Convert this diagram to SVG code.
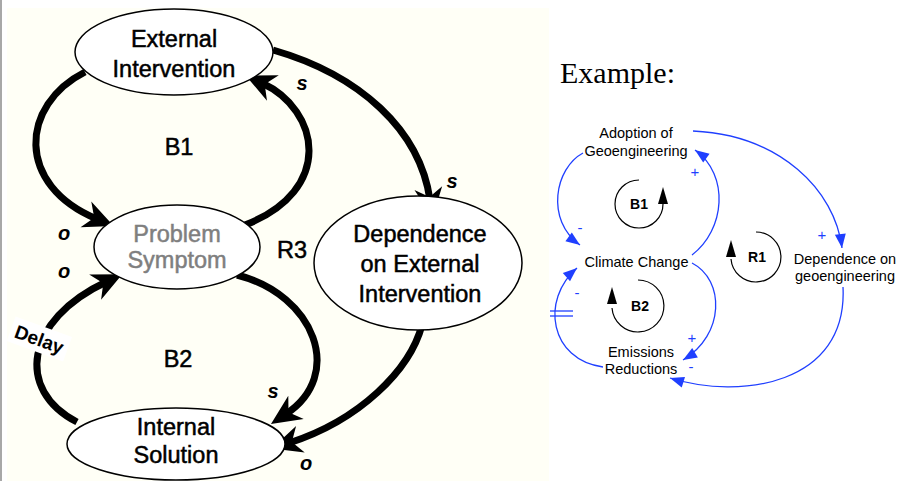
<svg xmlns="http://www.w3.org/2000/svg" width="898" height="481" viewBox="0 0 898 481">
<defs>
<style>
.node ellipse{fill:#fff;stroke:#000;stroke-width:1.5}
.lt{font-family:"Liberation Sans",Arial,sans-serif;font-size:23.5px;fill:#000;stroke:#000;stroke-width:0.5;text-anchor:middle}
.gray{fill:#7f7f7f;stroke:#7f7f7f}
.pol{font-family:"Liberation Sans",Arial,sans-serif;font-size:20px;font-style:italic;font-weight:bold;fill:#000;text-anchor:middle}
.thick{fill:none;stroke:#000;stroke-width:7;marker-end:url(#bigArrow)}
.blue{fill:none;stroke:#1f3fff;stroke-width:1.3;marker-end:url(#blueArrow)}
.rt{font-family:"Liberation Sans",Arial,sans-serif;font-size:14.5px;fill:#000;text-anchor:middle}
.bl{font-family:"Liberation Sans",Arial,sans-serif;font-size:15px;fill:#1f3fff;text-anchor:middle}
.loop{fill:none;stroke:#000;stroke-width:1.2}
.lbl{font-family:"Liberation Sans",Arial,sans-serif;font-size:14px;font-weight:bold;fill:#000;text-anchor:middle}
</style>
<marker id="bigArrow" markerUnits="userSpaceOnUse" viewBox="-32 -16 34 32" markerWidth="34" markerHeight="32" refX="-18" refY="0" orient="auto">
<path d="M0,0 L-30,-14 L-21,0 L-30,14 Z" fill="#000"/>
</marker>
<marker id="blueArrow" markerUnits="userSpaceOnUse" viewBox="-15 -7 16 14" markerWidth="16" markerHeight="14" refX="0" refY="0" orient="auto">
<path d="M0,0 L-14,-5.5 L-14,5.5 Z" fill="#1f3fff"/>
</marker>
</defs>
<rect x="0" y="0" width="898" height="481" fill="#fff"/>
<rect x="7" y="8" width="542" height="473" fill="#fffff6"/>
<rect x="0" y="0" width="2" height="481" fill="#a8a8a8"/>

<!-- left diagram connectors -->
<g id="connectors-left">
<path class="thick" d="M85,72 C20,105 15,185 97,219"/>
<path class="thick" d="M245,225 C335,190 320,110 262,83"/>
<path class="thick" d="M273,50 C360,75 420,130 430,200"/>
<path class="thick" d="M237,275 C315,295 345,375 286,414"/>
<path class="thick" d="M77,422 C15,390 25,320 106,282"/>
<path class="thick" d="M422,325 C410,370 360,420 289,443"/>
</g>

<g id="n-external" class="node">
<ellipse cx="174" cy="52" rx="99" ry="43"/>
<text class="lt" x="174" y="47">External</text>
<text class="lt" x="174" y="77">Intervention</text>
</g>
<g id="n-problem" class="node">
<ellipse cx="177" cy="247" rx="83" ry="42"/>
<text class="lt gray" x="177" y="242">Problem</text>
<text class="lt gray" x="177" y="268">Symptom</text>
</g>
<g id="n-dependence" class="node">
<ellipse cx="418" cy="263" rx="104" ry="67"/>
<text class="lt" x="420" y="242">Dependence</text>
<text class="lt" x="420" y="272">on External</text>
<text class="lt" x="420" y="302">Intervention</text>
</g>
<g id="n-internal" class="node">
<ellipse cx="176" cy="444" rx="109" ry="36"/>
<text class="lt" x="176" y="435">Internal</text>
<text class="lt" x="176" y="463">Solution</text>
</g>

<g id="labels-left">
<text class="lt" x="179" y="155">B1</text>
<text class="lt" x="292" y="258">R3</text>
<text class="lt" x="178" y="367">B2</text>
<text class="pol" x="302" y="90">s</text>
<text class="pol" x="452" y="188">s</text>
<text class="pol" x="273" y="398">s</text>
<text class="pol" x="306" y="470">o</text>
<text class="pol" x="64" y="240">o</text>
<text class="pol" x="64" y="278">o</text>
<g transform="translate(39,340) rotate(20)">
<rect x="-30" y="-14" width="60" height="26" fill="#fff"/>
<text x="0" y="6" font-family="Liberation Sans, Arial, sans-serif" font-size="19" font-weight="bold" text-anchor="middle" fill="#000">Delay</text>
</g>
</g>

<!-- right example -->
<text x="560" y="83" font-family="Liberation Serif, Times New Roman, serif" font-size="30" fill="#000">Example:</text>

<g id="connectors-right">
<path class="blue" d="M583,153 C555,168 545,220 580,245"/>
<path class="blue" d="M692,255 C725,230 730,175 695,150"/>
<path class="blue" d="M693,131 C780,135 835,190 842,248"/>
<path class="blue" d="M692,263 C725,280 725,335 683,360"/>
<path class="blue" d="M603,367 C550,360 540,300 577,268"/>
<path class="blue" d="M843,287 C848,385 740,400 670,378"/>
<line x1="550" y1="311" x2="573" y2="311" stroke="#1f3fff" stroke-width="1.3"/>
<line x1="550" y1="316" x2="573" y2="316" stroke="#1f3fff" stroke-width="1.3"/>
</g>

<g id="n-adoption">
<text class="rt" x="636" y="137.5">Adoption of</text>
<text class="rt" x="636" y="155.5">Geoengineering</text>
</g>
<g id="n-climate">
<text class="rt" x="636.5" y="267">Climate Change</text>
</g>
<g id="n-emissions">
<text class="rt" x="641" y="357">Emissions</text>
<text class="rt" x="641" y="373.5">Reductions</text>
</g>
<g id="n-dependence-geo">
<text class="rt" x="845" y="264">Dependence on</text>
<text class="rt" x="845" y="281">geoengineering</text>
</g>

<g id="polarities-right">
<text class="bl" x="580" y="233">-</text>
<text class="bl" x="695" y="177">+</text>
<text class="bl" x="822" y="240">+</text>
<text class="bl" x="577" y="298">-</text>
<text class="bl" x="692" y="343">+</text>
<text class="bl" x="691" y="372">-</text>
</g>

<g id="loop-B1">
<path class="loop" d="M639,180 A24,24 0 1 0 663,204"/>
<path d="M663,187 L658,204 L668,204 Z" fill="#000"/>
<text class="lbl" x="639" y="209">B1</text>
</g>
<g id="loop-R1">
<path class="loop" d="M756,232 A25,25 0 1 1 731,259"/>
<path d="M731,240 L726,257 L736,257 Z" fill="#000"/>
<text class="lbl" x="757" y="262">R1</text>
</g>
<g id="loop-B2">
<path class="loop" d="M638,280 A26,26 0 1 1 612,308"/>
<path d="M612,287 L607,304 L617,304 Z" fill="#000"/>
<text class="lbl" x="640" y="311">B2</text>
</g>
</svg>
